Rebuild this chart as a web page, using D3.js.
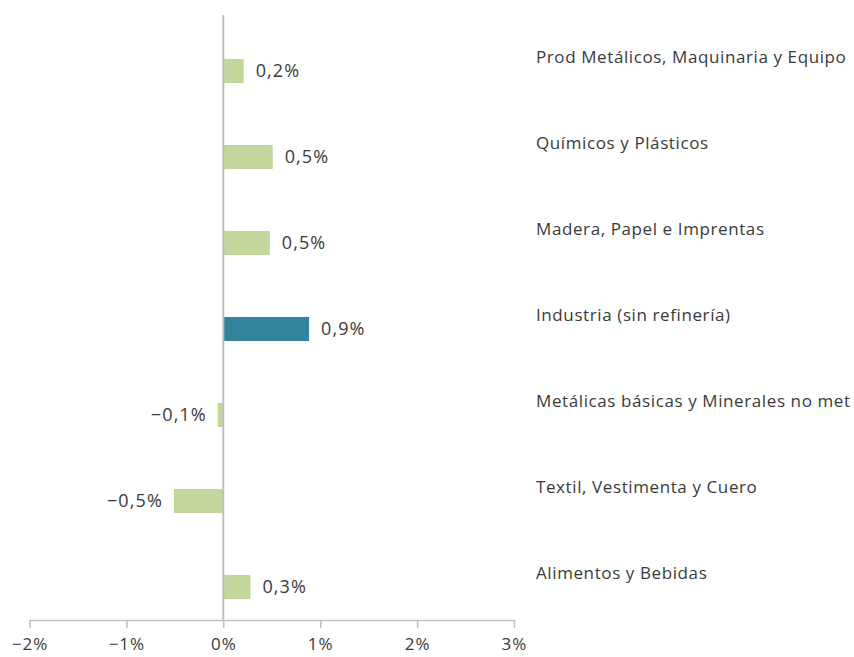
<!DOCTYPE html>
<html>
<head>
<meta charset="utf-8">
<script src="https://cdn.jsdelivr.net/npm/d3@7"></script>
<style>
  body { margin: 0; background: #fff; }
  text { font-family: "Open Sans", sans-serif; }
</style>
</head>
<body>
<div id="chart"></div>
<script>
var categories = ["Prod Metálicos, Maquinaria y Equipo", "Químicos y Plásticos", "Madera, Papel e Imprentas",
  "Industria (sin refinería)", "Metálicas básicas y Minerales no met", "Textil, Vestimenta y Cuero", "Alimentos y Bebidas"];
var values = [0.21, 0.51, 0.48, 0.885, -0.057, -0.51, 0.28];
var valueLabels = ["0,2%", "0,5%", "0,5%", "0,9%", "\u22120,1%", "\u22120,5%", "0,3%"];
var highlight = "Industria (sin refinería)";
var tickValues = [-2, -1, 0, 1, 2, 3];
var tickLabels = ["\u22122%", "\u22121%", "0%", "1%", "2%", "3%"];

var width = 854, height = 657;
var axisY = 620;

var svg = d3.select("#chart").append("svg")
  .attr("width", width)
  .attr("height", height);

var x = d3.scaleLinear()
  .domain([-2, 3])
  .range([29.5, 514]);

var y = d3.scaleBand()
  .domain(categories)
  .range([28, 630])
  .paddingInner(0.72)
  .paddingOuter(0.36);

// x axis
var xAxis = svg.append("g")
  .attr("transform", "translate(0," + axisY + ")")
  .call(d3.axisBottom(x).tickValues(tickValues).tickSize(8).tickSizeOuter(0)
    .tickFormat(function(d, i) { return tickLabels[i]; }));
xAxis.select(".domain").attr("stroke", "#bfbfbf").attr("stroke-width", 1.5);
xAxis.selectAll(".tick line").attr("stroke", "#bfbfbf").attr("stroke-width", 1.5);
xAxis.selectAll(".tick text")
  .attr("y", 18)
  .attr("font-size", "17px")
  .attr("letter-spacing", "1px")
  .attr("font-family", "'Open Sans', sans-serif")
  .attr("fill", "#3a3a3a");

// bars
svg.selectAll("rect.bar")
  .data(categories)
  .enter()
  .append("rect")
    .attr("class", "bar")
    .attr("x", function(d, i) { return x(Math.min(0, values[i])); })
    .attr("width", function(d, i) { return Math.abs(x(values[i]) - x(0)); })
    .attr("y", function(d) { return y(d); })
    .attr("height", y.bandwidth())
    .attr("fill", function(d) { return d === highlight ? "#31849b" : "#c3d69b"; });

// zero line
svg.append("line")
  .attr("x1", x(0)).attr("x2", x(0))
  .attr("y1", 15).attr("y2", axisY)
  .attr("stroke", "#bfbfbf")
  .attr("stroke-width", 2);

// value labels
svg.selectAll("text.val")
  .data(categories)
  .enter()
  .append("text")
    .attr("class", "val")
    .attr("x", function(d, i) { return values[i] < 0 ? x(values[i]) - 11 : x(values[i]) + 12; })
    .attr("y", function(d) { return y(d) + y.bandwidth() / 2; })
    .attr("dy", "0.36em")
    .attr("text-anchor", function(d, i) { return values[i] < 0 ? "end" : "start"; })
    .attr("font-size", "18px")
    .attr("letter-spacing", "1.1px")
    .attr("fill", "#3a3a3a")
    .text(function(d, i) { return valueLabels[i]; });

// category labels
svg.selectAll("text.cat")
  .data(categories)
  .enter()
  .append("text")
    .attr("class", "cat")
    .attr("x", 536)
    .attr("y", function(d) { return y(d) + y.bandwidth() / 2 - 14; })
    .attr("dy", "0.36em")
    .attr("font-size", "17px")
    .attr("letter-spacing", "0.6px")
    .attr("fill", "#3a3a3a")
    .text(function(d) { return d; });
</script>
</body>
</html>
